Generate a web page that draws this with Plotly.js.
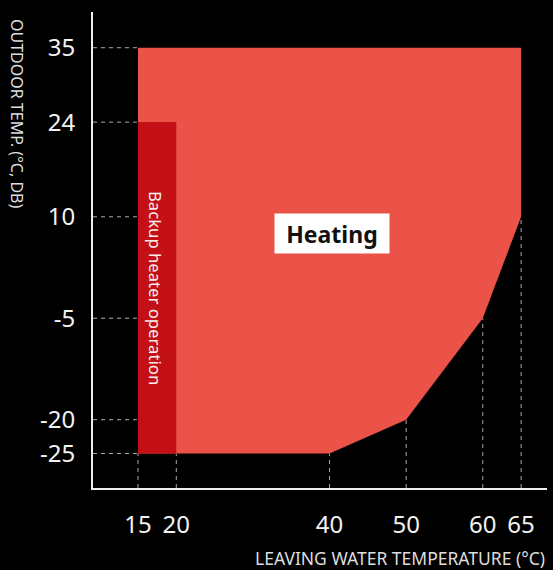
<!DOCTYPE html>
<html>
<head>
<meta charset="utf-8">
<script src="https://cdn.plot.ly/plotly-3.0.1.min.js"></script>
<style>html,body{margin:0;padding:0;background:#000;}#chart{width:553px;height:570px;}</style>
</head>
<body>
<div id="chart"></div>
<script>
// Operating envelope (heating)
const heatingX = [15, 65, 65, 60, 50, 40, 15];
const heatingY = [35, 35, 10, -5, -20, -25, -25];
// Backup heater region
const backupX = [15, 20, 20, 15];
const backupY = [-25, -25, 24, 24];
// Tick values
const xTicks = [15, 20, 40, 50, 60, 65];
const yTicks = [35, 24, 10, -5, -20, -25];
// Lower boundary of envelope at each x tick (for vertical guides)
const xTickFloor = [-25, -25, -25, -20, -5, 10];

const xRange = [9.13, 68.38];
const yRange = [-30.1, 40.28];

// guide lines
const gx = [], gy = [];
yTicks.forEach(v => { gx.push(xRange[0], 15, null); gy.push(v, v, null); });
xTicks.forEach((v, i) => { gx.push(v, v, null); gy.push(yRange[0], xTickFloor[i], null); });

const font = "'Noto Sans', 'Open Sans', sans-serif";

const traces = [
  {x: gx, y: gy, mode: 'lines', line: {color: '#aaaaaa', width: 1, dash: '4px,4px'}, hoverinfo: 'skip', showlegend: false},
  {x: heatingX, y: heatingY, mode: 'lines', fill: 'toself', fillcolor: '#EB5349', line: {width: 0, color: '#EB5349'}, hoverinfo: 'skip', showlegend: false},
  {x: backupX, y: backupY, mode: 'lines', fill: 'toself', fillcolor: '#C31016', line: {width: 0, color: '#C31016'}, hoverinfo: 'skip', showlegend: false}
];

const pw = 553 - 93 - 6, ph = 570 - 12 - 82;
const layout = {
  width: 553, height: 570,
  margin: {l: 93, r: 6, t: 12, b: 82},
  paper_bgcolor: '#000', plot_bgcolor: '#000',
  font: {family: font, color: '#f2f2f2'},
  showlegend: false,
  xaxis: {
    range: xRange, tickvals: xTicks, ticktext: xTicks.map(String),
    showgrid: false, zeroline: false, showline: true, linecolor: '#eeeeee', linewidth: 2,
    ticks: '', ticklabelstandoff: 14,
    tickfont: {size: 24, color: '#f2f2f2', family: font}, fixedrange: true
  },
  yaxis: {
    range: yRange, tickvals: yTicks, ticktext: yTicks.map(String),
    showgrid: false, zeroline: false, showline: true, linecolor: '#eeeeee', linewidth: 2,
    ticks: '', ticklabelstandoff: 11,
    tickfont: {size: 24, color: '#f2f2f2', family: font}, fixedrange: true
  },
  annotations: [
    {x: 40.3, y: 7.6, xref: 'x', yref: 'y', text: '<b>Heating</b>', showarrow: false,
     font: {size: 23, color: '#111', family: font}, bgcolor: '#ffffff', width: 112, height: 37, borderpad: 1},
    {x: 17.2, y: -0.5, xref: 'x', yref: 'y', text: 'Backup heater operation', showarrow: false, textangle: 90,
     font: {size: 16.7, color: '#fbeeee', family: font}},
    {x: (17 - 93) / pw, y: (570 - 82 - 114) / ph, xref: 'paper', yref: 'paper', xanchor: 'center', yanchor: 'middle',
     text: 'OUTDOOR TEMP. (°C, DB)', showarrow: false, textangle: 90,
     font: {size: 16, color: '#dddddd', family: font}},
    {x: (547 - 93) / pw, y: (570 - 82 - 558) / ph, xref: 'paper', yref: 'paper', xanchor: 'right', yanchor: 'middle',
     text: 'LEAVING WATER TEMPERATURE (°C)', showarrow: false,
     font: {size: 17.5, color: '#dddddd', family: font}}
  ]
};

Plotly.newPlot('chart', traces, layout, {displayModeBar: false, staticPlot: true});
</script>
</body>
</html>
